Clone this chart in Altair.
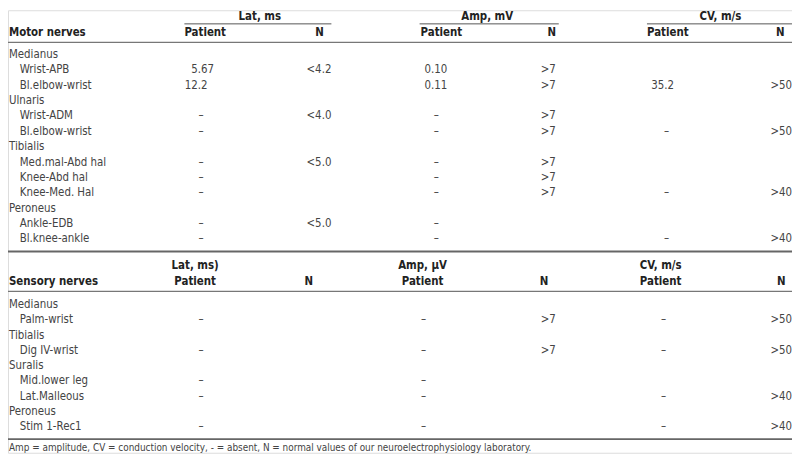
import altair as alt
import pandas as pd

# ---------------- content ----------------
motor_labels = ["Medianus", "Wrist-APB", "Bl.elbow-wrist", "Ulnaris", "Wrist-ADM", "Bl.elbow-wrist",
                "Tibialis", "Med.mal-Abd hal", "Knee-Abd hal", "Knee-Med. Hal", "Peroneus",
                "Ankle-EDB", "Bl.knee-ankle"]
motor_is_group = [1, 0, 0, 1, 0, 0, 1, 0, 0, 0, 1, 0, 0]
motor_lat_patient = ["", "5.67", "12.2", "", "–", "–", "", "–", "–", "–", "", "–", "–"]
motor_lat_n = ["", "<4.2", "", "", "<4.0", "", "", "<5.0", "", "", "", "<5.0", ""]
motor_amp_patient = ["", "0.10", "0.11", "", "–", "–", "", "–", "–", "–", "", "–", "–"]
motor_amp_n = ["", ">7", ">7", "", ">7", ">7", "", ">7", ">7", ">7", "", "", ""]
motor_cv_patient = ["", "", "35.2", "", "", "–", "", "", "", "–", "", "", "–"]
motor_cv_n = ["", "", ">50", "", "", ">50", "", "", "", ">40", "", "", ">40"]

sensory_labels = ["Medianus", "Palm-wrist", "Tibialis", "Dig IV-wrist", "Suralis", "Mid.lower leg",
                  "Lat.Malleous", "Peroneus", "Stim 1-Rec1"]
sensory_is_group = [1, 0, 1, 0, 1, 0, 0, 1, 0]
sensory_lat_patient = ["", "–", "", "–", "", "–", "–", "", "–"]
sensory_lat_n = ["", "", "", "", "", "", "", "", ""]
sensory_amp_patient = ["", "–", "", "–", "", "–", "–", "", "–"]
sensory_amp_n = ["", ">7", "", ">7", "", "", "", "", ""]
sensory_cv_patient = ["", "–", "", "–", "", "", "–", "", "–"]
sensory_cv_n = ["", ">50", "", ">50", "", "", ">40", "", ">40"]

motor_title = "Motor nerves"
sensory_title = "Sensory nerves"
motor_groups = ["Lat, ms", "Amp, mV", "CV, m/s"]
sensory_groups = ["Lat, ms)", "Amp, \u03bcV", "CV, m/s"]
sub_patient = "Patient"
sub_n = "N"
footnote = ("Amp = amplitude, CV = conduction velocity, - = absent, "
            "N = normal values of our neuroelectrophysiology laboratory.")

# ---------------- layout (reference pixel units) ----------------
W_REF, H_REF = 800, 455
X_GROUP, X_SUB = 1, 12
motor_dec = [197, 435, 673]        # decimal point of patient values
motor_dash = [197, 437, 672]       # centre of dashes
n_right = [330, 559, 800]          # right edge of normal values
motor_head_c = [257, 489, 727]     # group header centres
motor_rule = [(180, 330), (420, 562), (652, 800)]
motor_pat_left = [180, 421, 652]
motor_n_head = [318, 555, 788]
sens_dash = [197, 424, 669]
sens_head_c = [191, 423, 666]
sens_n_head = [307, 547, 789]

Y_M_H1, Y_M_H2, Y_M0, DY_M = 7, 23, 46, 15.8
Y_S_H1, Y_S_H2, Y_S0, DY_S = 263, 279, 303, 15.75
Y_FOOT = 450

rows = []  # text, x, y, kind


def add(text, x, y, kind):
    if text != "":
        rows.append({"text": text, "x": x, "y": y, "kind": kind})


def add_value(text, dec_x, dash_x, y):
    if text == "":
        return
    if "." in text:
        a, b = text.split(".")
        add(a + ".", dec_x, y, "right")
        add(b, dec_x, y, "left")
    else:
        add(text, dash_x, y, "center")


# motor header
add(motor_title, X_GROUP, Y_M_H2, "bold_left")
for i in range(3):
    add(motor_groups[i], motor_head_c[i], Y_M_H1, "bold_center")
    add(sub_patient, motor_pat_left[i], Y_M_H2, "bold_left")
    add(sub_n, motor_n_head[i], Y_M_H2, "bold_center")

motor_pat = [motor_lat_patient, motor_amp_patient, motor_cv_patient]
motor_n = [motor_lat_n, motor_amp_n, motor_cv_n]
for r, lab in enumerate(motor_labels):
    y = Y_M0 + DY_M * r
    add(lab, X_GROUP if motor_is_group[r] else X_SUB, y, "left")
    for i in range(3):
        add_value(motor_pat[i][r], motor_dec[i], motor_dash[i], y)
        add(motor_n[i][r], n_right[i], y, "right")

# sensory header
add(sensory_title, X_GROUP, Y_S_H2, "bold_left")
for i in range(3):
    add(sensory_groups[i], sens_head_c[i], Y_S_H1, "bold_center")
    add(sub_patient, sens_head_c[i], Y_S_H2, "bold_center")
    add(sub_n, sens_n_head[i], Y_S_H2, "bold_center")

sens_pat = [sensory_lat_patient, sensory_amp_patient, sensory_cv_patient]
sens_n = [sensory_lat_n, sensory_amp_n, sensory_cv_n]
for r, lab in enumerate(sensory_labels):
    y = Y_S0 + DY_S * r
    add(lab, X_GROUP if sensory_is_group[r] else X_SUB, y, "left")
    for i in range(3):
        add_value(sens_pat[i][r], sens_dash[i], sens_dash[i], y)
        add(sens_n[i][r], n_right[i], y, "right")

add(footnote, X_GROUP, Y_FOOT, "foot")

texts = pd.DataFrame(rows)

lines = pd.DataFrame(
    [{"x": a, "x2": b, "y": 14, "w": 1.0, "c": "#555"} for a, b in motor_rule]
    + [
        {"x": 0, "x2": 800, "y": 33, "w": 1.2, "c": "#777"},
        {"x": 0, "x2": 800, "y": 248, "w": 2.0, "c": "#666"},
        {"x": 0, "x2": 800, "y": 289, "w": 1.2, "c": "#777"},
        {"x": 0, "x2": 800, "y": 441, "w": 2.0, "c": "#666"},
    ]
)

PW, PH = 792, 447
xs = alt.Scale(domain=[0, W_REF], range=[0, PW])
ys = alt.Scale(domain=[0, H_REF], range=[0, PH])

FONT = "Liberation Sans Narrow, DejaVu Sans Condensed, Arial Narrow, sans-serif"
FS = 11.5

rule_layer = alt.Chart(lines).mark_rule().encode(
    x=alt.X("x:Q", scale=xs, axis=None),
    x2="x2:Q",
    y=alt.Y("y:Q", scale=ys, axis=None),
    strokeWidth=alt.StrokeWidth("w:Q", scale=None, legend=None),
    color=alt.Color("c:N", scale=None, legend=None),
)


def text_layer(kind, align, weight, color, size):
    return alt.Chart(texts).transform_filter(
        alt.datum.kind == kind
    ).mark_text(
        align=align, baseline="middle", font=FONT, fontSize=size,
        fontWeight=weight, color=color,
    ).encode(
        x=alt.X("x:Q", scale=xs, axis=None),
        y=alt.Y("y:Q", scale=ys, axis=None),
        text="text:N",
    )


layers = [
    rule_layer,
    text_layer("left", "left", "normal", "#444", FS),
    text_layer("right", "right", "normal", "#444", FS),
    text_layer("center", "center", "normal", "#444", FS),
    text_layer("bold_left", "left", "bold", "#222", FS),
    text_layer("bold_center", "center", "bold", "#222", FS),
    text_layer("foot", "left", "normal", "#444", 10),
]

chart = alt.layer(*layers).properties(
    width=PW, height=PH, padding=0, autosize="none"
).configure_view(stroke=None).configure(background="white")

chart.save("out.html", embed_options={"renderer": "svg", "actions": False})
